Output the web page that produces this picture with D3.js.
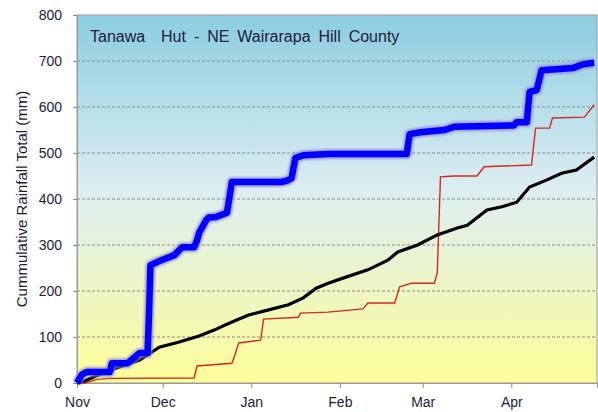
<!DOCTYPE html>
<meta charset="utf-8">
<style>
body{ margin:0; background:#fff; }
text{ font-family:"Liberation Sans", Arial, sans-serif; fill:#1c1c3a; }
.tick text{ font-size:14px; }
.grid line{ stroke:#8a8a8a; stroke-dasharray:3,2; }
</style>
<body>
<div id="chart"></div>
<script src="https://d3js.org/d3.v7.min.js"></script>
<script>
// days after 1 Nov, cumulative mm
var blueDays = [0,1.7,3.5,11.5,12.2,17.7,21.9,24.7,25.2,25.7,28.8,34.1,36.8,41,42,42.7,45.2,46.2,48.6,52.5,54.2,71.6,73.5,75.1,76.4,79.2,87.9,115.4,116.4,120.2,128.6,132,152.9,153.9,157.4,158.4,160.9,162.6,173.7,177.2,181];
var blueVals = [0,18,24,24,43,43,65,65,150,256,265,278,295,295,310,326,354,360,361,370,437,437,440,445,489,495,498,498,541,545,550,557,560,567,567,633,637,680,685,693,696];

var blackDays = [0,2,11.5,21.9,28.8,35.8,42.7,48,53.2,60.1,67.1,74,79.2,83.7,87.9,93.1,101.8,108.8,112.3,119.2,126.1,133.1,136.6,143.5,148.7,153.9,158.4,164.3,169.6,174.8,181];
var blackVals = [0,3,28,50,78,89,102,115,130,148,159,170,185,206,217,228,246,267,285,300,322,337,343,376,383,393,426,441,456,463,491];

var redDays = [0,2.8,6.9,11.5,41,42,54.2,55.2,56.6,64.3,65.3,77.5,78.2,87.9,100.1,101.8,111.2,112.9,117.1,125.1,126.1,127.2,132,140,142.5,159.1,160.5,165.4,166.4,177.6,181];
var redVals = [0,0,8,10,11,37,43,60,87,93,139,143,152,154,161,174,174,209,217,217,239,448,450,450,470,474,554,554,576,578,605];

var yTicks = [0,100,200,300,400,500,600,700,800];
var monthLabels = ["Nov","Dec","Jan","Feb","Mar","Apr"];
var titleText = "Tanawa  Hut - NE Wairarapa Hill County";
var yTitle = "Cummulative Rainfall Total (mm)";

var W = 598, H = 412;
var margin = {top:15, right:1, bottom:29, left:77};
var start = new Date(2015,10,1), end = new Date(2016,4,1);

var svg = d3.select("#chart").append("svg").attr("width",W).attr("height",H);

var x = d3.scaleTime().domain([start,end]).range([margin.left, W-margin.right]);
var y = d3.scaleLinear().domain([0,800]).range([H-margin.bottom, margin.top]);

var defs = svg.append("defs");
var grad = defs.append("linearGradient").attr("id","bg").attr("x1",0).attr("y1",0).attr("x2",0).attr("y2",1);
grad.append("stop").attr("offset","0%").attr("stop-color","#8ccde0");
grad.append("stop").attr("offset","48%").attr("stop-color","#ddeef2");
grad.append("stop").attr("offset","100%").attr("stop-color","#fdfd98");
var blur = defs.append("filter").attr("id","glow").attr("x","-5%").attr("y","-5%").attr("width","110%").attr("height","110%");
blur.append("feGaussianBlur").attr("stdDeviation",1.3);

svg.append("rect")
  .attr("x",x.range()[0]).attr("y",y(800))
  .attr("width",x.range()[1]-x.range()[0]).attr("height",y(0)-y(800))
  .attr("fill","url(#bg)").attr("stroke","#9a9a9a");

svg.append("g").attr("class","grid")
  .selectAll("line").data(yTicks.slice(1,-1)).join("line")
  .attr("x1",x.range()[0]).attr("x2",x.range()[1])
  .attr("y1",d=>y(d)).attr("y2",d=>y(d));

var xAxis = svg.append("g").attr("transform","translate(0,"+y(0)+")")
  .call(d3.axisBottom(x).tickValues(d3.timeMonth.range(start,end))
    .tickFormat((d,i)=>monthLabels[i]).tickSize(5).tickPadding(9));
var yAxis = svg.append("g").attr("transform","translate("+margin.left+",0)")
  .call(d3.axisLeft(y).tickValues(yTicks).tickSize(4).tickPadding(11));
[xAxis,yAxis].forEach(function(a){
  a.select(".domain").attr("stroke","#9a9a9a");
  a.selectAll(".tick line").attr("stroke","#8a8a8a");
  a.selectAll(".tick text").attr("fill","#1c1c3a").style("font-size","14px");
});

function series(days, vals){
  return days.map((d,i)=>[d3.timeHour.offset(start, Math.round(d*24)), vals[i]]);
}
var line = d3.line().x(d=>x(d[0])).y(d=>y(d[1]));

var plot = svg.append("g");
plot.append("path").datum(series(redDays,redVals)).attr("d",line)
  .attr("fill","none").attr("stroke","#d42a1e").attr("stroke-width",1.4);
plot.append("path").datum(series(blackDays,blackVals)).attr("d",line)
  .attr("fill","none").attr("stroke","#000").attr("stroke-width",3.2);
plot.append("path").datum(series(blueDays,blueVals)).attr("d",line)
  .attr("fill","none").attr("stroke","#8f7fd6").attr("stroke-width",10)
  .attr("stroke-linejoin","round").attr("opacity",0.75).attr("filter","url(#glow)");
plot.append("path").datum(series(blueDays,blueVals)).attr("d",line)
  .attr("fill","none").attr("stroke","#0000ff").attr("stroke-width",6.5)
  .attr("stroke-linejoin","round");

svg.append("text").attr("x",90).attr("y",42)
  .style("font-size","16px").style("word-spacing","3.5px").style("white-space","pre").text(titleText);

svg.append("text")
  .attr("transform","translate(27,"+((y(0)+y(800))/2)+") rotate(-90)")
  .attr("text-anchor","middle").style("font-size","15px").text(yTitle);
</script>
</body>
